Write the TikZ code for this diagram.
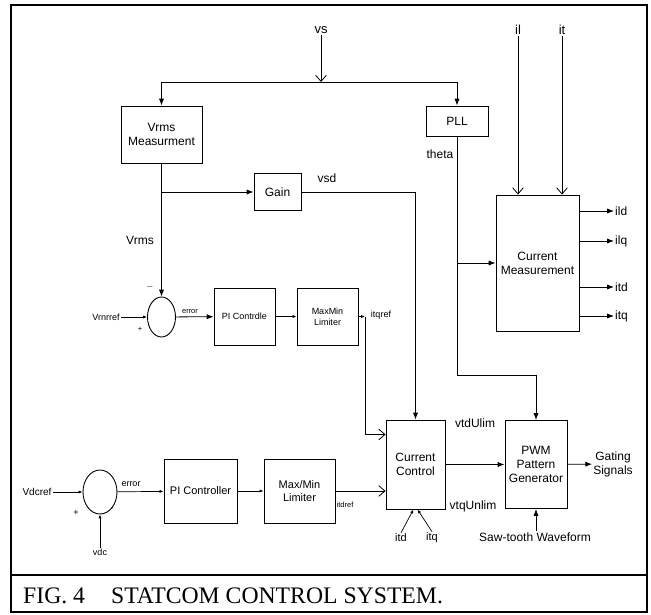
\documentclass[tikz,border=0pt]{standalone}
\usepackage{fontspec}
\setmainfont{Liberation Serif}
\setsansfont{Liberation Sans}
\usetikzlibrary{arrows.meta,shapes.geometric,calc}

\begin{document}
\begin{tikzpicture}[
  x=1pt, y=-1pt,
  font=\sffamily\fontsize{12}{14}\selectfont,
  blk/.style={draw, line width=0.9pt, align=center, inner sep=1pt},
  smallblk/.style={blk, font=\sffamily\fontsize{9}{11}\selectfont},
  midblk/.style={blk, font=\sffamily\fontsize{11}{13}\selectfont},
  sumj/.style={ellipse, draw, line width=0.9pt, inner sep=0pt},
  lbl/.style={inner sep=1pt},
  smalllbl/.style={font=\sffamily\fontsize{9}{11}\selectfont, inner sep=1pt},
  tinylbl/.style={font=\sffamily\fontsize{7.5}{9}\selectfont, inner sep=1pt},
  flow/.style={-{Latex[length=2.4mm,width=1.8mm]}, line width=0.8pt},
  barb/.style={-{Straight Barb[length=2.2mm,width=3.8mm]}, line width=0.8pt},
  tick/.style={-{Latex[length=1.4mm,width=1.1mm]}, line width=0.7pt},
]
\useasboundingbox (0,0) rectangle (651,614);

% ---------------- FRAME ----------------
\draw[line width=1.6pt] (11,5) rectangle (647,612);
\draw[line width=1.6pt] (11,575) -- (647,575);

% ---------------- NODES (absolute grid) ----------------
\node[lbl, font=\sffamily\fontsize{13}{15}\selectfont] (VS) at (321,30) {vs};
\node[lbl, font=\sffamily\fontsize{13}{15}\selectfont] (IL) at (518,30) {il};
\node[lbl, font=\sffamily\fontsize{13}{15}\selectfont] (IT) at (562,30) {it};

\node[blk, minimum width=81pt, minimum height=57pt] (VRMS) at (161.5,134.5) {Vrms\\Measurment};
\node[blk, minimum width=62pt, minimum height=30pt] (PLL) at (457,121) {PLL};
\node[blk, minimum width=47pt, minimum height=37pt] (GAIN) at (277.5,192) {Gain};
\node[blk, minimum width=83pt, minimum height=136pt] (CM) at (537.5,263) {Current\\Measurement};

\node[lbl] (VRMSL) at (140,240) {Vrms};
\node[lbl] (VSD) at (327,178) {vsd};
\node[lbl] (THETA) at (440,154) {theta};

\foreach \n/\yy in {ild/211, ilq/241, itd/287, itq/316}
  \node[lbl, anchor=west] (O\n) at (614,\yy) {\n};

% voltage loop
\node[sumj, minimum width=28pt, minimum height=40pt] (SUM1) at (161.5,317) {};
\node[smalllbl] (VRREF) at (106,317) {Vrnrref};
\node[smalllbl] (MINUS1) at (150,287) {$-$};
\node[tinylbl] (PLUS1) at (140,329) {+};
\node[tinylbl] (ERR1) at (190,312) {error};
\node[smallblk, minimum width=61pt, minimum height=57pt] (PIC) at (244.5,316.5) {PI Contrdle};
\node[smallblk, minimum width=61pt, minimum height=57pt] (LIM1) at (327.5,316.5) {MaxMin\\Limiter};
\node[smalllbl] (ITQREF) at (381,315) {itqref};

% dc loop
\node[sumj, minimum width=34pt, minimum height=44pt] (SUM2) at (100,492) {};
\node[lbl, font=\sffamily\fontsize{10}{12}\selectfont] (VDCREF) at (37,492) {Vdcref};
\node[smalllbl] (VDC) at (100,552) {vdc};
\node[smalllbl] (PLUS2) at (76,513) {+};
\node[tinylbl] (MINUS2) at (112,509) {-};
\node[smalllbl] (ERR2) at (131,484) {error};
\node[midblk, minimum width=73pt, minimum height=64pt] (PI2) at (200.5,491) {PI Controller};
\node[midblk, minimum width=71pt, minimum height=64pt] (LIM2) at (299.5,491) {Max/Min\\Limiter};
\node[tinylbl] (ITDREF) at (345,505) {itdref};

% current control and pwm
\node[blk, minimum width=59pt, minimum height=89pt] (CC) at (415.5,464.5) {Current\\Control};
\node[blk, minimum width=62pt, minimum height=88pt] (PWM) at (536,464.5) {PWM\\Pattern\\Generator};
\node[lbl] (VTD) at (475,423) {vtdUlim};
\node[lbl] (VTQ) at (473,506) {vtqUnlim};
\node[lbl, align=center] (GATE) at (613,464) {Gating\\Signals};
\node[lbl] (SAW) at (535,537) {Saw-tooth Waveform};
\node[lbl, font=\sffamily\fontsize{11}{13}\selectfont] (ITD) at (401,538) {itd};
\node[lbl, font=\sffamily\fontsize{11}{13}\selectfont] (ITQ) at (432,538) {itq};

% ---------------- EDGES ----------------
\coordinate (vsJ) at (321,82);
\draw[barb] (VS) -- (vsJ);
\draw[flow] (vsJ) -| (VRMS);
\draw[flow] (vsJ) -| (PLL);

\coordinate (vrJ) at (161.5,192);
\draw[flow] (VRMS) -- (SUM1);
\draw[flow] (vrJ) -- (GAIN);
\draw[flow] (GAIN) -| (CC);

\draw[barb] (IL) -- (IL |- CM.north);
\draw[barb] (IT) -- (IT |- CM.north);
\coordinate (thJ) at (457,375);
\draw[flow] (PLL) -- (thJ) -| (PWM);
\draw[flow] (PLL |- CM) -- (CM);
\foreach \n in {ild,ilq,itd,itq}
  \draw[flow] (CM.east |- O\n) -- (O\n);

\draw[tick] (VRREF) -- (SUM1);
\draw[flow] (SUM1) -- (PIC);
\draw[tick] (PIC) -- (LIM1);
\coordinate (itqJ) at (365,316.5);
\draw[tick] (LIM1) -- (itqJ);
\draw[barb] (itqJ) |- ([yshift=30pt]CC.west);

\draw[tick] (VDCREF) -- (SUM2);
\draw[tick] (VDC) -- (SUM2);
\draw[tick] (SUM2) -- (PI2);
\draw[tick] (PI2) -- (LIM2);
\draw[barb] (LIM2) -- (LIM2 -| CC.west);

\draw[flow] (CC) -- (PWM);
\draw[flow] (PWM) -- (GATE);
\draw[flow] (SAW.north -| PWM) -- (PWM);
\draw[tick] (ITD.north) -- ([xshift=-2pt]CC.south);
\draw[tick] (ITQ.north) -- ([xshift=2pt]CC.south);

% ---------------- CAPTION ----------------
\node[font=\rmfamily\fontsize{23.7}{26}\selectfont, anchor=base west, inner sep=0pt] (CAP)
  at (23,603) {FIG. 4\hspace{26pt}STATCOM CONTROL SYSTEM.};
\end{tikzpicture}
\end{document}
